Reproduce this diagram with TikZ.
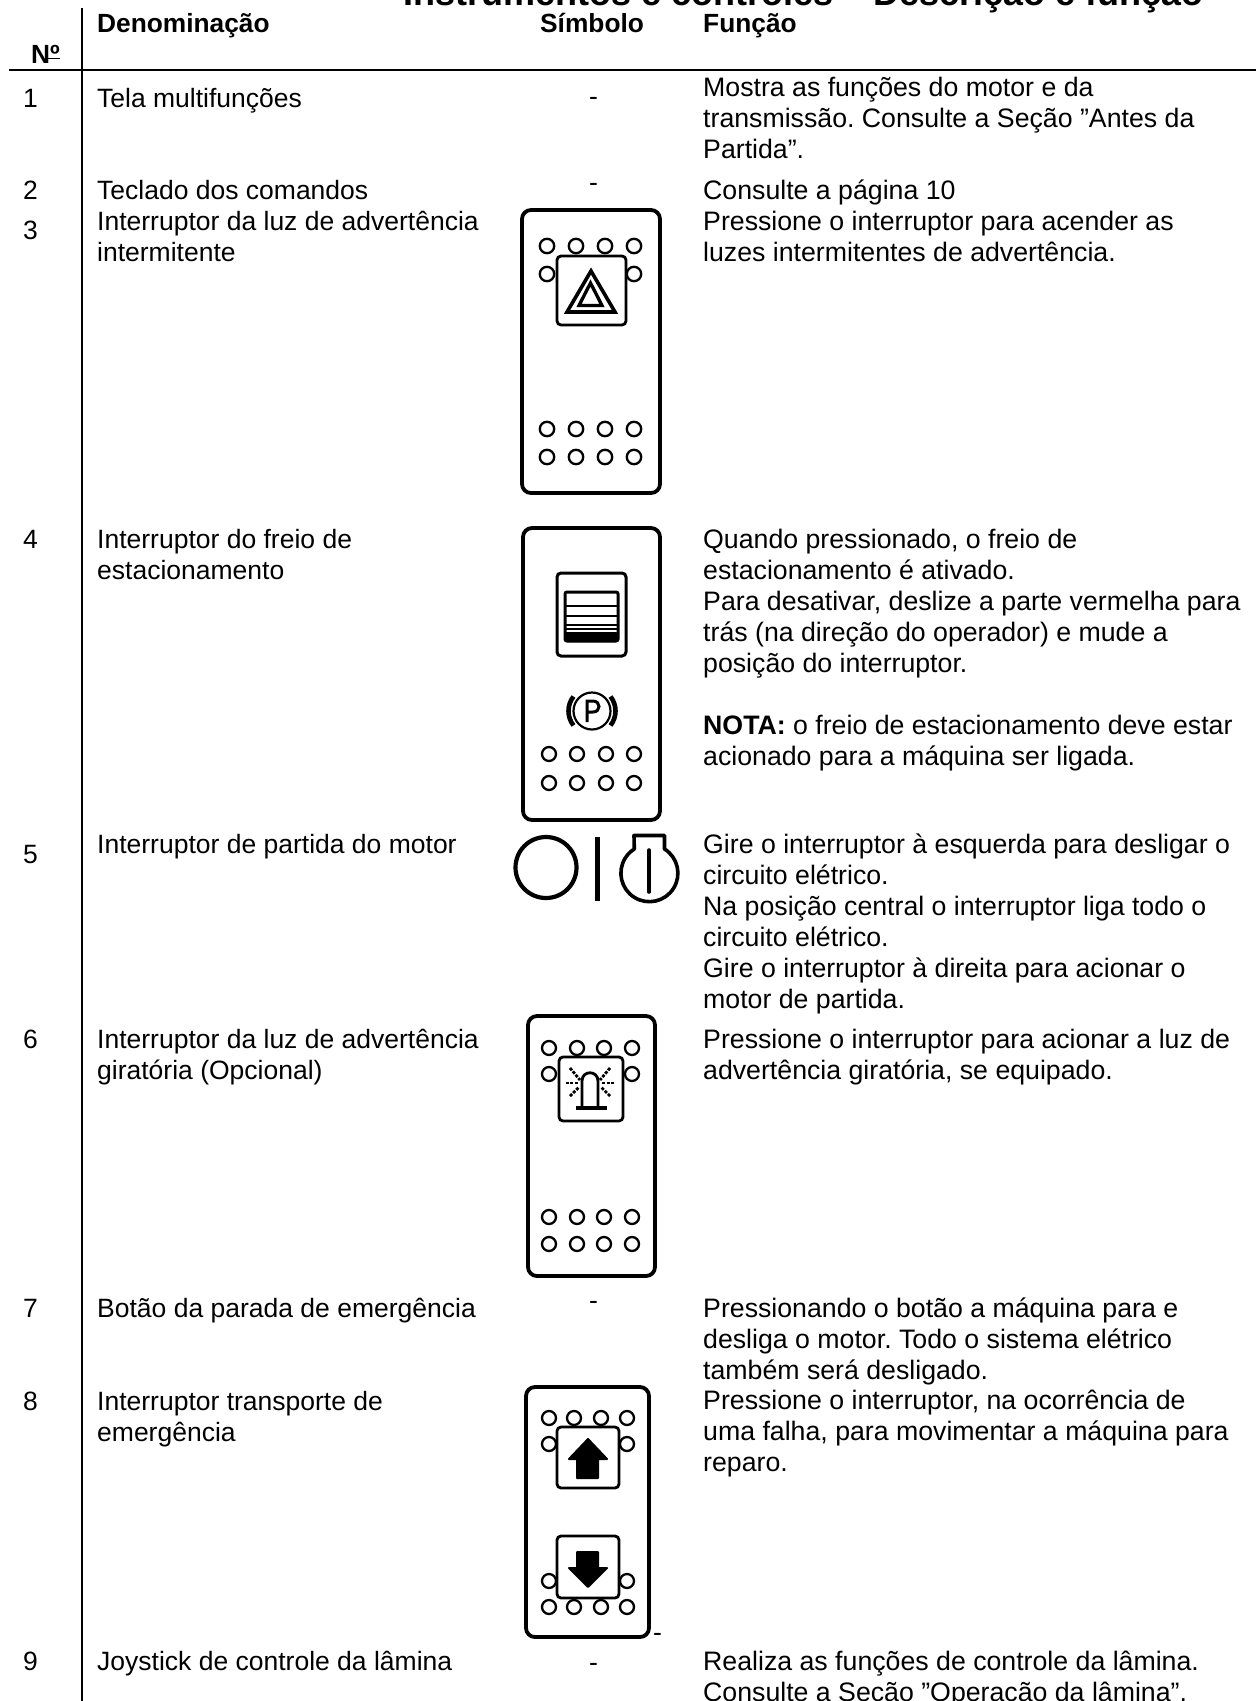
\documentclass[tikz,border=0pt]{standalone}
\usepackage{fontspec}
\setmainfont{Liberation Sans}
\frenchspacing
\newcommand{\fsz}{\fontsize{26.5}{31}\selectfont}
\newcommand{\fszf}{\fontsize{26.7}{31}\selectfont}
\newcommand{\fszh}{\fontsize{26.3}{31}\selectfont\bfseries}
\newcommand{\fszt}{\fontsize{36}{40}\selectfont\bfseries}
\newcommand{\strutx}{\rule{0pt}{20pt}}
\tikzset{
 cell/.style={anchor=north west,inner sep=0pt,align=left,font=\fsz,text=black},
 cellf/.style={cell,font=\fszf},
 head/.style={anchor=base west,inner sep=0pt,font=\fszh,text=black},
 titlet/.style={anchor=base west,inner sep=0pt,font=\fszt,text=black},
 outer/.style={draw=black,line width=3.8pt,rounded corners=9pt,fill=white},
 btn/.style={draw=black,line width=2.8pt,rounded corners=4pt,fill=white},
 led/.style={draw=black,line width=2.3pt,fill=white},
 rulel/.style={draw=black,line width=1.8pt},
}
\newcommand{\cellat}[4]{\node[cell] (#1) at (#2,#3-20) {\strutx #4};}
\newcommand{\cellfat}[4]{\node[cellf] (#1) at (#2,#3-20) {\strutx #4};}
\begin{document}
\begin{tikzpicture}[x=1pt,y=-1pt]
\useasboundingbox (0,0) rectangle (1259,1701);
\clip (0,0) rectangle (1259,1701);
\fill[white] (0,0) rectangle (1259,1701);
% rules
\coordinate (vt) at (82,8); \coordinate (vb) at (82,1701);
\coordinate (hl) at (9,70); \coordinate (hr) at (1256,70);
\draw[rulel] (vt) -- (vb);
\draw[rulel] (hl) -- (hr);
% title and headers
\node[titlet] (title) at (403,5) {Instrumentos e controles – Descrição e função};
\node[head] (hn) at (31,63) {Nº};
\draw[line width=1.5pt] (45,58.5) -- (60,58.5);
\node[head] (hd) at (97,32) {Denominação};
\node[head] (hs) at (540,32) {Símbolo};
\node[head] (hf) at (703,32) {Função};
% numbers
\cellat{n1}{23}{107}{1}
\cellat{n2}{23}{199}{2}
\cellat{n3}{23}{239}{3}
\cellat{n4}{23}{548}{4}
\cellat{n5}{23}{863}{5}
\cellat{n6}{23}{1048}{6}
\cellat{n7}{23}{1317}{7}
\cellat{n8}{23}{1410}{8}
\cellat{n9}{23}{1670}{9}
% names
\cellat{d1}{97}{107}{Tela multifunções}
\cellat{d2}{97}{199}{Teclado dos comandos}
\cellat{d3}{97}{230}{Interruptor da luz de advertência\\intermitente}
\cellat{d4}{97}{548}{Interruptor do freio de\\estacionamento}
\cellat{d5}{97}{853}{Interruptor de partida do motor}
\cellat{d6}{97}{1048}{Interruptor da luz de advertência\\giratória (Opcional)}
\cellat{d7}{97}{1317}{Botão da parada de emergência}
\cellat{d8}{97}{1410}{Interruptor transporte de\\emergência}
\cellat{d9}{97}{1670}{Joystick de controle da lâmina}
% functions
\cellfat{f1}{703}{96}{Mostra as funções do motor e da\\transmissão. Consulte a Seção ”Antes da\\Partida”.}
\cellfat{f2}{703}{199}{Consulte a página 10}
\cellfat{f3}{703}{230}{Pressione o interruptor para acender as\\luzes intermitentes de advertência.}
\cellfat{f4}{703}{548}{Quando pressionado, o freio de\\estacionamento é ativado.\\Para desativar, deslize a parte vermelha para\\trás (na direção do operador) e mude a\\posição do interruptor.\\[31pt]\textbf{NOTA:} o freio de estacionamento deve estar\\acionado para a máquina ser ligada.}
\cellfat{f5}{703}{853}{Gire o interruptor à esquerda para desligar o\\circuito elétrico.\\Na posição central o interruptor liga todo o\\circuito elétrico.\\Gire o interruptor à direita para acionar o\\motor de partida.}
\cellfat{f6}{703}{1048}{Pressione o interruptor para acionar a luz de\\advertência giratória, se equipado.}
\cellfat{f7}{703}{1317}{Pressionando o botão a máquina para e\\desliga o motor. Todo o sistema elétrico\\também será desligado.}
\cellfat{f8}{703}{1409}{Pressione o interruptor, na ocorrência de\\uma falha, para movimentar a máquina para\\reparo.}
\cellfat{f9}{703}{1670}{Realiza as funções de controle da lâmina.\\Consulte a Seção ”Operação da lâmina”.}
% dashes
\cellat{s1}{589}{105}{-}
\cellat{s2}{589}{191}{-}
\cellat{s7}{589}{1309}{-}
\cellat{s8}{653}{1641}{-}
\cellat{s9}{589}{1671}{-}
% symbol 3
\draw[outer] (522,210) rectangle (660,493);
\foreach \x in {547,576,605,634} {\draw[led] (\x,246) circle (7.2pt); \draw[led] (\x,429) circle (7.2pt); \draw[led] (\x,457) circle (7.2pt);}
\foreach \x in {547,634} \draw[led] (\x,274) circle (7.2pt);
\draw[btn] (557,256) rectangle (626,325);
\draw[line width=3.6pt,miter limit=10] (591,271) -- (567,312) -- (615,312) -- cycle;
\draw[line width=3.3pt,miter limit=10] (590.5,283) -- (579,305.5) -- (602,305.5) -- cycle;
% symbol 4
\draw[outer] (523,528) rectangle (660,820);
\draw[btn,line width=3pt] (557,573) rectangle (626,656);
\draw[line width=3pt,rounded corners=2pt] (565,592) rectangle (618,641);
\foreach \y in {606,616,625} \draw[line width=2.2pt] (565,\y) -- (618,\y);
\draw[line width=1.6pt] (565,629) -- (618,629);
\fill[black,rounded corners=2pt] (565,632) rectangle (618,642);
\draw[line width=2.2pt] (592,711) circle (18.5pt);
\draw[line width=3pt] (587,722) -- (587,701) -- (593,701) .. controls (601,701) and (601,712) .. (593,712) -- (587,712);
\draw[line width=4.6pt] (592,711) ++(142:23.5pt) arc (142:218:23.5pt);
\draw[line width=4.6pt] (592,711) ++(38:23.5pt) arc (38:-38:23.5pt);
\foreach \x in {549,577,606,634} {\draw[led] (\x,754) circle (7pt); \draw[led] (\x,783) circle (7pt);}
% symbol 5
\draw[line width=4.2pt] (546,867.5) circle (30.5pt);
\draw[line width=5pt] (597,837) -- (597,901);
\draw[line width=3.6pt,line join=round] (664.5,849) arc (58:-238:28.5pt) -- (634,835.5) -- (664.5,835.5) -- cycle;
\draw[line width=3.6pt,line cap=round] (649,850) -- (649,892);
% symbol 6
\draw[outer] (528,1016) rectangle (655,1276);
\foreach \x in {549,577,604,632} {\draw[led] (\x,1048) circle (7pt); \draw[led] (\x,1217) circle (7pt); \draw[led] (\x,1244) circle (7pt);}
\foreach \x in {549,632} \draw[led] (\x,1074) circle (7pt);
\draw[btn] (559,1057) rectangle (623,1121);
\draw[line width=2.8pt] (582,1108) -- (582,1081) .. controls (582,1070) and (598,1070) .. (598,1081) -- (598,1108);
\draw[line width=3.2pt] (576,1108) -- (607,1108);
\foreach \a/\b/\c/\d in {570/1068/580/1080,566/1083/578/1083,570/1096/579/1087,610/1068/600/1080,614/1083/602/1083,610/1096/601/1087}
  \draw[line width=2.8pt,dash pattern=on 3pt off 1.4pt] (\a,\b) -- (\c,\d);
% symbol 8
\draw[outer] (526,1387) rectangle (649,1637);
\foreach \x in {549,574,601,627} {\draw[led] (\x,1418) circle (7pt); \draw[led] (\x,1607) circle (7pt);}
\foreach \y in {1444,1581} \foreach \x in {549,627} \draw[led] (\x,\y) circle (7pt);
\draw[btn] (557,1427) rectangle (619,1488);
\draw[btn] (557,1536) rectangle (619,1598);
\fill[black,line join=round,draw=black,line width=2pt] (588,1439) -- (569,1459) -- (577,1459) -- (577,1478) -- (598,1478) -- (598,1459) -- (607,1459) -- cycle;
\fill[black,line join=round,draw=black,line width=2pt] (588,1587) -- (569,1568) -- (577,1568) -- (577,1552) -- (598,1552) -- (598,1568) -- (607,1568) -- cycle;
\end{tikzpicture}
\end{document}
